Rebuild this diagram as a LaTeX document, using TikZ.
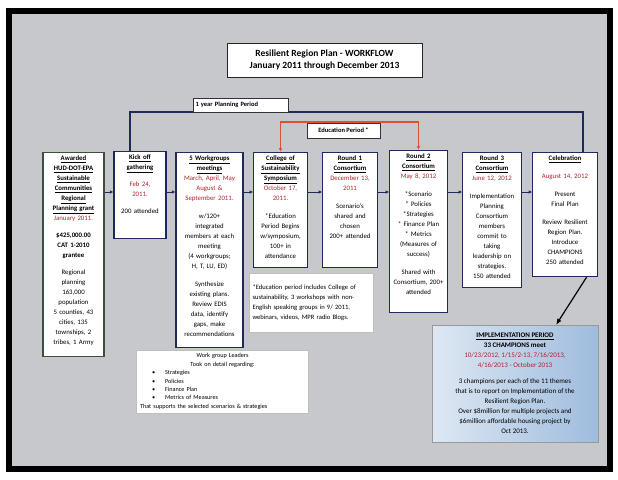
\documentclass[tikz,border=0pt]{standalone}
\usepackage{fontspec}
\setmainfont{Carlito}
\usetikzlibrary{arrows.meta}

\definecolor{panelgray}{HTML}{C6C8CC}
\definecolor{boxnavy}{HTML}{1F2A5C}
\definecolor{boxolive}{HTML}{404C3E}
\definecolor{datered}{HTML}{B0232B}
\definecolor{eduorange}{HTML}{D9532C}
\definecolor{implblue}{HTML}{9FBCDD}

\newcommand{\stagehead}[1]{\textbf{\underline{#1}}}
\newcommand{\stagedate}[1]{\textcolor{datered}{#1}}

\begin{document}
\begin{tikzpicture}[x=1pt, y=-1pt,
  stage/.style={draw=boxnavy, line width=1.2pt, fill=white, anchor=north, align=center,
    inner xsep=2pt, inner ysep=3pt, text height=5pt, font=\fontsize{6.8}{10}\selectfont},
  flow/.style={draw=boxnavy, line width=0.8pt, -{Latex[length=3.5pt,width=3.5pt]}},
  span/.style={draw=boxnavy, line width=1.6pt},
  tag/.style={draw=black!80, line width=0.6pt, fill=white, inner sep=1.5pt,
    font=\bfseries\fontsize{6.5}{8}\selectfont},
  note/.style={fill=white, draw=black!25, line width=0.4pt}]
  \useasboundingbox (0,0) rectangle (618,479);
  % frame and panel
  \fill[white] (0,0) rectangle (618,479);
  \draw[line width=6pt, fill=panelgray] (9,11) rectangle (610,469);

  % title
  \node[draw=black!85, line width=0.8pt, fill=white, minimum width=195pt, minimum height=34pt,
    align=center, font=\bfseries\fontsize{9.5}{12.5}\selectfont] (title) at (324.5,60)
    {Resilient Region Plan - WORKFLOW\\January 2011 through December 2013};

  % stages
  \node[stage, draw=boxolive, text width=57pt, text depth=193pt] (hud) at (73.5,152)
    {\stagehead{Awarded}\\ \stagehead{HUD-DOT-EPA}\\ \stagehead{Sustainable}\\ \stagehead{Communities}\\
     \stagehead{Regional}\\ \stagehead{Planning grant}\\ \stagedate{January 2011.}\\[7pt]
     \textbf{\$425,000.00}\\ \textbf{CAT 1-2010}\\ \textbf{grantee}\\[7pt]
     Regional\\ planning\\ 163,000\\ population\\ 5 counties, 43\\ cities, 135\\ townships, 2\\ tribes, 1 Army};
  \node[stage, text width=48pt, text depth=76pt] (kick) at (140,151)
    {\stagehead{Kick off}\\ \stagehead{gathering}\\[7pt] \stagedate{Feb 24,}\\ \stagedate{2011.}\\[7pt] 200 attended};
  \node[stage, text width=63pt, text depth=184pt] (groups) at (209.5,152)
    {\stagehead{5 Workgroups}\\ \stagehead{meetings}\\ \stagedate{March, April, May}\\ \stagedate{August \&}\\
     \stagedate{September 2011.}\\[8pt]
     w/120+\\ integrated\\ members at each\\ meeting\\ (4 workgroups;\\ H, T, LU, ED)\\[8pt]
     Synthesize\\ existing plans.\\ Review EDIS\\ data, identify\\ gaps, make\\ recommendations};
  \node[stage, text width=49.5pt, text depth=104pt] (college) at (280.5,152)
    {\stagehead{College of}\\ \stagehead{Sustainability}\\ \stagehead{Symposium}\\ \stagedate{October 17,}\\
     \stagedate{2011.}\\[8pt] {*}Education\\ Period Begins\\ w/symposium,\\ 100+ in\\ attendance};
  \node[stage, text width=50.5pt, text depth=104pt] (round1) at (350,152)
    {\stagehead{Round 1}\\ \stagehead{Consortium}\\ \stagedate{December 13,}\\ \stagedate{2011}\\[8pt]
     Scenario's\\ shared and\\ chosen\\ 200+ attended};
  \node[stage, text width=53.5pt, text depth=151pt] (round2) at (418.5,150)
    {\stagehead{Round 2}\\ \stagehead{Consortium}\\ \stagedate{May 8, 2012}\\[8pt]
     {*}Scenario\\ {*} Policies\\ {*}Strategies\\ {*} Finance Plan\\ {*} Metrics\\ (Measures of\\ success)\\[8pt]
     Shared with\\ Consortium, 200+\\ attended};
  \node[stage, text width=54.5pt, text depth=124pt] (round3) at (492,152)
    {\stagehead{Round 3}\\ \stagehead{Consortium}\\ \stagedate{June 12, 2012}\\[8pt]
     Implementation\\ Planning\\ Consortium\\ members\\ commit to\\ taking\\ leadership on\\ strategies.\\ 150 attended};
  \node[stage, text width=60.5pt, text depth=113pt] (celeb) at (565,152)
    {\stagehead{Celebration}\\[8pt] \stagedate{August 14, 2012}\\[8pt] Present\\ Final Plan\\[8pt]
     Review Resilient\\ Region Plan.\\ Introduce\\ CHAMPIONS\\ 250 attended};

  % connectors between stages
  \coordinate (flowrow) at (0,192);
  \draw[flow] (hud.east |- flowrow) -- (kick.west |- flowrow);
  \draw[flow] (kick.east |- flowrow) -- (groups.west |- flowrow);
  \draw[flow] (groups.east |- flowrow) -- (college.west |- flowrow);
  \draw[flow] (college.east |- flowrow) -- (round1.west |- flowrow);
  \draw[flow] (round1.east |- flowrow) -- (round2.west |- flowrow);
  \draw[flow] (round2.east |- flowrow) -- (round3.west |- flowrow);
  \draw[flow] (round3.east |- flowrow) -- (celeb.west |- flowrow);

  % planning period
  \coordinate (planrow) at (0,112);
  \draw[span] (kick.103) -- (kick.103 |- planrow) -- (celeb.74 |- planrow) -- (celeb.74);
  \node[tag, minimum width=95pt, minimum height=14pt, text width=90pt, align=left] (plantag) at (240.5,105)
    {1 year Planning Period};

  % education period
  \coordinate (edurow) at (0,122);
  \draw[draw=eduorange, line width=1.2pt, {Latex[length=4pt,width=3.5pt,fill=black]}-{Latex[length=4pt,width=3.5pt,fill=black]}]
    (college.north) -- (college.north |- edurow) -- (round2.north |- edurow) -- (round2.north);
  \node[tag, minimum width=73pt, minimum height=15pt] (edutag) at (343.5,130.5) {Education Period *};

  % notes
  \node[note, minimum width=122pt, minimum height=59pt, text width=117pt, align=left,
    font=\fontsize{6.6}{10}\selectfont] (edunote) at (311,302.5)
    {*Education period includes College of\\ sustainability, 3 workshops with non-\\
     English speaking groups in 9/ 2011,\\ webinars, videos, MPR radio Blogs.};
  \node[note, minimum width=171pt, minimum height=63pt, text width=165pt, align=left,
    font=\fontsize{6.2}{8.4}\selectfont] (leaders) at (222.5,381.5)
    {\makebox[165pt]{Work group Leaders}\\ \makebox[165pt]{Took on detail regarding:}\\
     \hspace*{12pt}\textbullet\hspace{10pt}Strategies\\ \hspace*{12pt}\textbullet\hspace{10pt}Policies\\
     \hspace*{12pt}\textbullet\hspace{10pt}Finance Plan\\ \hspace*{12pt}\textbullet\hspace{10pt}Metrics of Measures\\
     That supports the selected scenarios \& strategies};

  % implementation period
  \node[draw=black!40, line width=0.5pt, left color=implblue!35!white, right color=implblue,
    minimum width=166pt, minimum height=117pt, align=center,
    font=\fontsize{7}{10}\selectfont] (impl) at (515,383.5)
    {\stagehead{IMPLEMENTATION PERIOD}\\ \textbf{33 CHAMPIONS meet}\\
     \stagedate{10/23/2012, 1/15/2-13, 7/16/2013,}\\ \stagedate{4/16/2013 - October 2013}\\[6pt]
     3 champions per each of the 11 themes\\ that is to report on Implementation of the\\
     Resilient Region Plan.\\ Over \$8million for multiple projects and\\
     \$6million affordable housing project by\\ Oct 2013.};
  \draw[line width=1.2pt, -{Latex[length=6pt,width=5pt]}] (celeb.289) -- (impl.55.6);
\end{tikzpicture}
\end{document}
